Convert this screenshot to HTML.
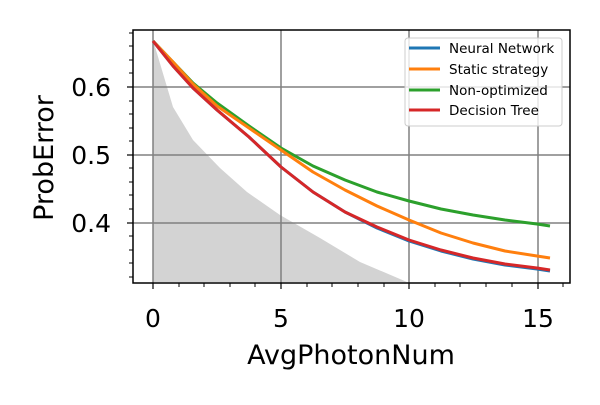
<!DOCTYPE html>
<html><head><style>body{margin:0;background:#fff}</style></head><body>
<svg width="600" height="400" xmlns="http://www.w3.org/2000/svg" font-family="DejaVu Sans, Liberation Sans, sans-serif">
<rect width="600" height="400" fill="#fff"/>
<polygon fill="#d3d3d3" points="153,40 173,107 193,140 220,168 247,192 280,215 320,238 360,262 407,282 153,282"/>
<g stroke="#808080" stroke-width="1.5">
<line x1="153" y1="30" x2="153" y2="283"/><line x1="281" y1="30" x2="281" y2="283"/><line x1="409" y1="30" x2="409" y2="283"/><line x1="538" y1="30" x2="538" y2="283"/>
<line x1="133" y1="87" x2="570" y2="87"/><line x1="133" y1="155" x2="570" y2="155"/><line x1="133" y1="223" x2="570" y2="223"/>
</g>
<g fill="none" stroke-width="3" stroke-linejoin="round">
<polyline stroke="#2ca02c" points="153,41 173,62 193,83 217,103 249,126 281,148 313,166 345,180 377,192 409,201 441,209 473,215 505,220 537,224 550,226"/>
<polyline stroke="#ff7f0e" points="153,41 173,62 193,84 217,106 249,128 281,150 313,172 345,190 377,206 409,220 441,233 473,243 505,251 537,256 550,258"/>
<polyline stroke="#1f77b4" points="153,41 173,66 193,88 217,110 249,137 281,167 313,192 345,212 377,228 409,241 441,251 473,259 505,265 537,269 550,271"/>
<polyline stroke="#d62728" points="153,41 173,66 193,88 217,110 249,137 281,167 313,192 345,212 377,227 409,240 441,250 473,258 505,264 537,268 550,270"/>
</g>
<rect x="133" y="30" width="437" height="253" fill="none" stroke="#000" stroke-width="1.5"/>
<g stroke="#000" stroke-width="1.2">
<line x1="153" y1="283" x2="153" y2="289"/><line x1="281" y1="283" x2="281" y2="289"/><line x1="409" y1="283" x2="409" y2="289"/><line x1="538" y1="283" x2="538" y2="289"/>
<line x1="127" y1="87" x2="133" y2="87"/><line x1="127" y1="155" x2="133" y2="155"/><line x1="127" y1="223" x2="133" y2="223"/>
</g>
<g stroke="#000" stroke-width="1">
<line x1="179" y1="283" x2="179" y2="287"/><line x1="204" y1="283" x2="204" y2="287"/><line x1="230" y1="283" x2="230" y2="287"/><line x1="255" y1="283" x2="255" y2="287"/>
<line x1="307" y1="283" x2="307" y2="287"/><line x1="332" y1="283" x2="332" y2="287"/><line x1="358" y1="283" x2="358" y2="287"/><line x1="384" y1="283" x2="384" y2="287"/>
<line x1="435" y1="283" x2="435" y2="287"/><line x1="460" y1="283" x2="460" y2="287"/><line x1="486" y1="283" x2="486" y2="287"/><line x1="512" y1="283" x2="512" y2="287"/><line x1="563" y1="283" x2="563" y2="287"/>
<line x1="129" y1="33" x2="133" y2="33"/><line x1="129" y1="46" x2="133" y2="46"/><line x1="129" y1="60" x2="133" y2="60"/><line x1="129" y1="73" x2="133" y2="73"/>
<line x1="129" y1="101" x2="133" y2="101"/><line x1="129" y1="114" x2="133" y2="114"/><line x1="129" y1="128" x2="133" y2="128"/><line x1="129" y1="141" x2="133" y2="141"/>
<line x1="129" y1="168" x2="133" y2="168"/><line x1="129" y1="182" x2="133" y2="182"/><line x1="129" y1="195" x2="133" y2="195"/><line x1="129" y1="209" x2="133" y2="209"/>
<line x1="129" y1="236" x2="133" y2="236"/><line x1="129" y1="250" x2="133" y2="250"/><line x1="129" y1="263" x2="133" y2="263"/><line x1="129" y1="277" x2="133" y2="277"/>
</g>
<g font-size="25" fill="#000">
<text x="153" y="327" text-anchor="middle">0</text><text x="281" y="327" text-anchor="middle">5</text><text x="409" y="327" text-anchor="middle">10</text><text x="538" y="327" text-anchor="middle">15</text>
<text x="111" y="96" text-anchor="end">0.6</text><text x="111" y="164" text-anchor="end">0.5</text><text x="111" y="232" text-anchor="end">0.4</text>
</g>
<text x="351" y="364" text-anchor="middle" font-size="27">AvgPhotonNum</text>
<text transform="translate(53,158) rotate(-90)" text-anchor="middle" font-size="27">ProbError</text>
<rect x="405" y="38" width="157" height="88" rx="3" fill="#fff" fill-opacity="0.8" stroke="#ccc"/>
<g stroke-width="3">
<line x1="409" y1="48" x2="440" y2="48" stroke="#1f77b4"/><line x1="409" y1="69" x2="440" y2="69" stroke="#ff7f0e"/>
<line x1="409" y1="90" x2="440" y2="90" stroke="#2ca02c"/><line x1="409" y1="110" x2="440" y2="110" stroke="#d62728"/>
</g>
<g font-size="13.5" fill="#000">
<text x="449" y="53">Neural Network</text><text x="449" y="74">Static strategy</text><text x="449" y="95">Non-optimized</text><text x="449" y="115">Decision Tree</text>
</g>
</svg>
</body></html>
